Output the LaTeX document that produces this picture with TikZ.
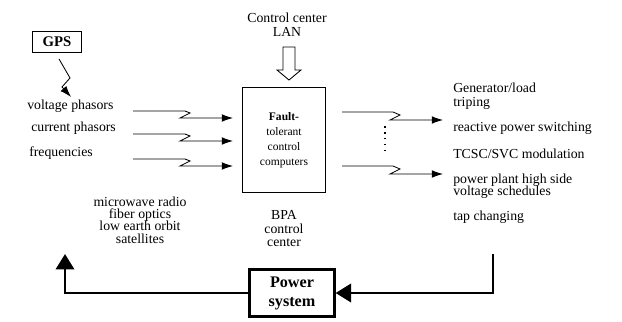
\documentclass[tikz,border=0pt]{standalone}
\usepackage{fontspec}
\setmainfont{Liberation Serif}
\usetikzlibrary{arrows.meta}
\tikzset{
    txt/.style={inner sep=0pt, font=\fontsize{9.8}{10}\selectfont},
    tight/.style={font={\fontsize{9.8}{#1}\selectfont\lineskiplimit-5pt\relax}},
    sig/.style={line width=0.6pt, -{Latex[length=8pt,width=5.5pt]}},
    feedback/.style={line width=2pt, -{Triangle[length=11pt,width=13pt]}},
}
\begin{document}
\begin{tikzpicture}[x=0.025cm, y=-0.025cm]
    \useasboundingbox (0,0) rectangle (622,321);
    %% GPS and measured inputs
    \node[draw, line width=0.6pt, minimum width=35pt, minimum height=15pt,
          font=\bfseries\fontsize{10.5}{12}\selectfont] (gps) at (57,42) {GPS};
    \node[txt, anchor=west] (volt) at (27,106) {voltage phasors};
    \node[txt, anchor=west] (curr) at (31,128) {current phasors};
    \node[txt, anchor=west] (freq) at (29,153) {frequencies};
    \draw[sig] ([shift={(2,6)}]gps.south) -- ++(11,19) -- ++(-8,9) -- ++(9,10);
    \foreach \y [count=\i] in {111,134,159} {
        \coordinate (in\i) at (133,\y);
        \draw[sig] (in\i) -- ++(52,0) -- ++(5,2) -- ++(-10,5) -- ++(53,0);
    }
    %% control center
    \node[txt, align=center] (lan) at (287,25) {Control center\\LAN};
    \draw[line width=0.6pt] (283,47) -- (283,70) -- (277,70) -- (289,80)
        -- (301,70) -- (295,70) -- (295,47) -- cycle;
    \node[draw, line width=0.6pt, minimum width=59pt, minimum height=75pt,
          align=center, font=\fontsize{8.2}{10.7}\selectfont] (ftc) at (284,140)
          {\textbf{Fault-}\\tolerant\\control\\computers};
    \node[txt, tight=9.6, align=center] (bpa) at (284,229) {BPA\\control\\center};
    \node[txt, tight=8.75, align=center] (comm) at (140,220)
          {microwave radio\\fiber optics\\low earth orbit\\satellites};
    %% control actions
    \foreach \y [count=\i] in {112,166} {
        \coordinate (out\i) at (342,\y);
        \draw[sig] (out\i) -- ++(51,0) -- ++(7,3) -- ++(-10,5) -- ++(53,0);
    }
    \draw[line width=1.2pt, dash pattern=on 1.2pt off 3pt] (385,126) -- (385,154);
    \node[txt, anchor=west, align=left] (gen) at (453,96) {Generator/load\\triping};
    \node[txt, anchor=west] (react) at (453,128) {reactive power switching};
    \node[txt, anchor=west] (tcsc) at (453,154) {TCSC/SVC modulation};
    \node[txt, tight=8.5, anchor=west, align=left] (plant) at (453,186)
          {power plant high side\\voltage schedules};
    \node[txt, anchor=west] (tap) at (453,217) {tap changing};
    %% power system loop
    \node[draw, line width=2pt, minimum width=60pt, minimum height=33pt, align=center,
          font=\bfseries\fontsize{11.5}{13.5}\selectfont] (power) at (292,293) {Power\\system};
    \coordinate (r0) at (493,254);
    \coordinate (r1) at (493,293);
    \coordinate (l1) at (65,293);
    \coordinate (l0) at (65,254);
    \draw[feedback] (r0) -- (r1) -- (power.east);
    \draw[feedback] (power.west) -- (l1) -- (l0);
\end{tikzpicture}
\end{document}
